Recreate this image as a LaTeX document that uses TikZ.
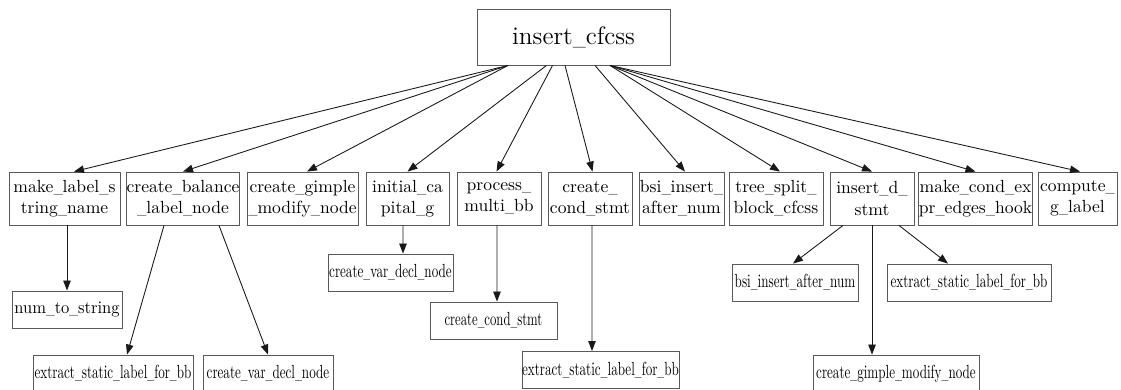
\documentclass[tikz,border=0pt]{standalone}
\usepackage{graphicx}
\usetikzlibrary{arrows.meta, positioning, calc}

\newcommand{\squeeze}[2][0.69]{\scalebox{#1}[1]{#2}}
\newcommand{\us}{\scalebox{0.7}[1]{\_}}

\begin{document}
\begin{tikzpicture}[every node/.style={draw=black!65, line width=0.5pt, align=center, inner sep=0pt},
    fn/.style={minimum height=1.06cm},
    leaf/.style={minimum height=0.74cm, font=\fontsize{10.8}{13}\selectfont},
    link/.style={draw=black!90, line width=0.5pt, -{Triangle[length=2mm, width=1.5mm]}}]
    \useasboundingbox (0,0) rectangle (22.42,-7.8);
    \node[minimum width=3.86cm, minimum height=1.12cm, font=\Large] (root) at (11.47,-0.74) {insert\us cfcss};
    % first row
    \node[fn, minimum width=2.22cm] (mls) at (1.29,-3.97) {make\us label\us s\\tring\us name};
    \node[fn, minimum width=2.24cm] (cbl) at (3.66,-3.97) {create\us balance\\\us label\us node};
    \node[fn, minimum width=2.22cm] (cgm) at (6.05,-3.97) {create\us gimple\\\us modify\us node};
    \node[fn, minimum width=1.66cm] (icg) at (8.15,-3.97) {initial\us ca\\pital\us g};
    \node[fn, minimum width=1.68cm] (pmb) at (9.98,-3.97) {process\us\\multi\us bb};
    \node[fn, minimum width=1.68cm] (ccs) at (11.80,-3.97) {create\us\\cond\us stmt};
    \node[fn, minimum width=1.70cm] (bia) at (13.63,-3.97) {bsi\us insert\us\\after\us num};
    \node[fn, minimum width=1.88cm] (tsb) at (15.52,-3.97) {tree\us split\us\\block\us cfcss};
    \node[fn, minimum width=1.68cm] (ids) at (17.44,-3.97) {insert\us d\us\\stmt};
    \node[fn, minimum width=2.22cm] (mce) at (19.51,-3.97) {make\us cond\us ex\\pr\us edges\us hook};
    \node[fn, minimum width=1.58cm] (cgl) at (21.55,-3.97) {compute\us\\g\us label};
    % second row
    \node[leaf, minimum width=2.20cm, font=\normalsize] (nts) at (1.34,-6.19) {\squeeze[0.94]{num\us to\us string}};
    \node[leaf, minimum width=3.20cm] (exl) at (2.26,-7.47) {\squeeze{extract\us static\us label\us for\us bb}};
    \node[leaf, minimum width=2.60cm] (cvl) at (5.36,-7.47) {\squeeze{create\us var\us decl\us node}};
    \node[leaf, minimum width=2.50cm] (cvm) at (7.81,-5.45) {\squeeze{create\us var\us decl\us node}};
    \node[leaf, minimum width=2.54cm] (cst) at (9.87,-6.41) {\squeeze[0.67]{create\us cond\us stmt}};
    \node[leaf, minimum width=3.14cm] (exm) at (12.01,-7.40) {\squeeze{extract\us static\us label\us for\us bb}};
    \node[leaf, minimum width=2.52cm] (bsn) at (15.90,-5.65) {\squeeze{bsi\us insert\us after\us num}};
    \node[leaf, minimum width=3.28cm] (exr) at (19.38,-5.65) {\squeeze{extract\us static\us label\us for\us bb}};
    \node[leaf, minimum width=3.32cm] (gmn) at (17.92,-7.47) {\squeeze{create\us gimple\us modify\us node}};
    % calls from the root
    \draw[link] ([xshift=-1.31cm]root.south) -- ([xshift=0.19cm]mls.north);
    \draw[link] ([xshift=-1.31cm]root.south) -- (cbl.north);
    \draw[link] ([xshift=-1.31cm]root.south) -- ([xshift=0.09cm]cgm.north);
    \draw[link] ([xshift=-0.54cm]root.south) -- (icg.north);
    \draw[link] ([xshift=-0.42cm]root.south) -- ([xshift=-0.05cm]pmb.north);
    \draw[link] ([xshift=-0.17cm]root.south) -- ([xshift=0.05cm]ccs.north);
    \draw[link] ([xshift=0.43cm]root.south) -- ([xshift=0.07cm]bia.north);
    \draw[link] ([xshift=0.73cm]root.south) -- ([xshift=0.08cm]tsb.north);
    \draw[link] ([xshift=0.73cm]root.south) -- (ids.north);
    \draw[link] ([xshift=0.73cm]root.south) -- (mce.north);
    \draw[link] ([xshift=0.73cm]root.south) -- ([xshift=0.05cm]cgl.north);
    % second level calls
    \draw[link] (nts.north |- mls.south) -- (nts.north);
    \draw[link] ([xshift=-0.38cm]cbl.south) -- ([xshift=0.28cm]exl.north);
    \draw[link] ([xshift=0.72cm]cbl.south) -- (cvl.north);
    \draw[link] ([xshift=-0.09cm]icg.south) -- ([xshift=0.25cm]cvm.north);
    \draw[link] ([xshift=-0.04cm]pmb.south) -- ([xshift=0.07cm]cst.north);
    \draw[link] ([xshift=0.04cm]ccs.south) -- ([xshift=-0.17cm]exm.north);
    \draw[link] ([xshift=-0.58cm]ids.south) -- ([xshift=-0.04cm]bsn.north);
    \draw[link] (ids.south) -- ([xshift=-0.48cm]gmn.north);
    \draw[link] ([xshift=0.54cm]ids.south) -- ([xshift=-0.42cm]exr.north);
\end{tikzpicture}
\end{document}
